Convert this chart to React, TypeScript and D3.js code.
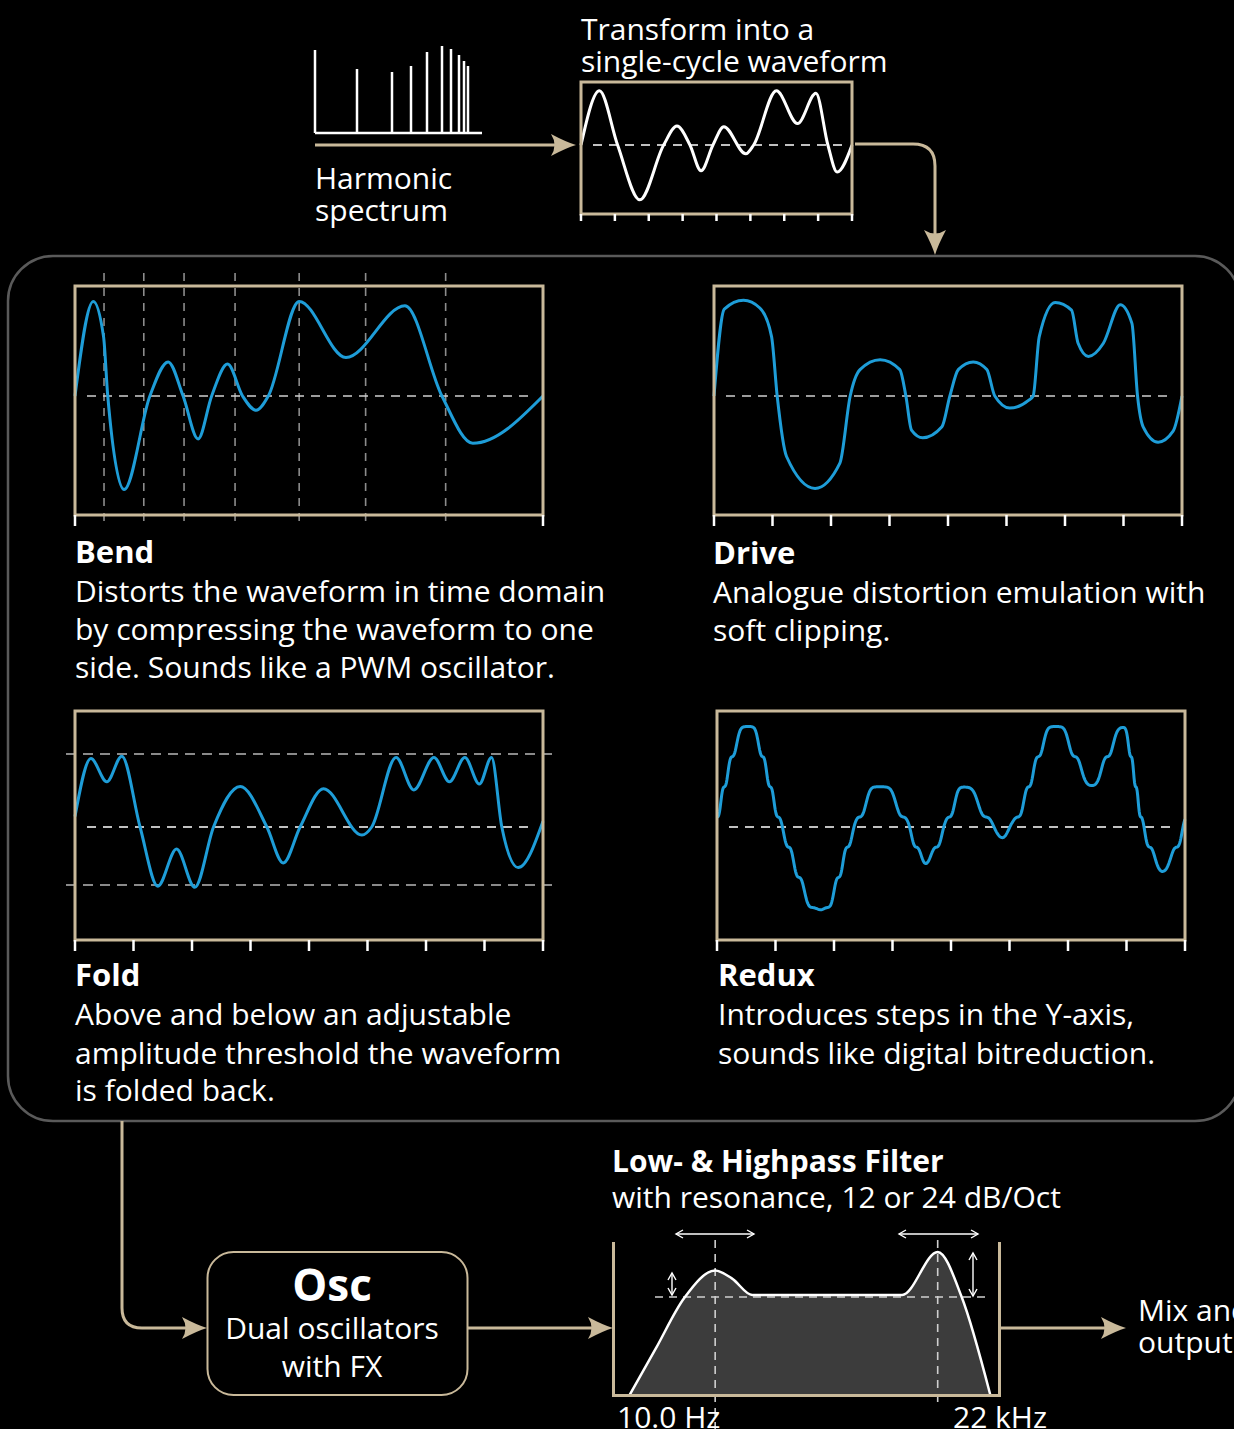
import React from 'react';
import * as d3 from 'd3';

const W = 1234;
const H = 1429;

// ---------- data ----------
const harmonicFreq = [0, 42, 77, 96, 112, 127, 136, 144, 149, 153];
const harmonicAmp = [83, 64, 61, 67, 81, 87, 84, 78, 72, 67];

const sourcePhase = [0, 0.068, 0.135, 0.217, 0.305, 0.354, 0.402, 0.443, 0.487, 0.527, 0.608, 0.637, 0.721, 0.799, 0.867, 0.911, 0.945, 1];
const sourceLevel = [0, 0.86, 0, -0.87, 0, 0.3, 0, -0.41, 0, 0.29, -0.14, 0, 0.86, 0.34, 0.82, 0, -0.43, 0];

const bendPhase = [0, 0.039, 0.061, 0.07, 0.105, 0.16, 0.199, 0.231, 0.263, 0.292, 0.326, 0.358, 0.387, 0.413, 0.479, 0.579, 0.705, 0.784, 0.85, 1];
const bendLevel = [0, 0.86, 0.54, 0, -0.85, 0, 0.31, 0, -0.39, 0, 0.29, 0, -0.13, 0, 0.86, 0.35, 0.82, 0, -0.43, 0];
const bendTicks = [0, 0.062, 0.147, 0.233, 0.342, 0.479, 0.621, 0.792, 1];

const drivePhase = [0, 0.022, 0.063, 0.098, 0.123, 0.135, 0.155, 0.216, 0.269, 0.291, 0.312, 0.355, 0.397, 0.41, 0.422, 0.446, 0.487, 0.504, 0.522, 0.554, 0.583, 0.6, 0.632, 0.672, 0.682, 0.695, 0.729, 0.764, 0.778, 0.8, 0.832, 0.868, 0.893, 0.905, 0.917, 0.949, 0.981, 1];
const driveLevel = [0, 0.79, 0.87, 0.8, 0.54, 0, -0.55, -0.84, -0.61, 0, 0.24, 0.33, 0.24, 0, -0.31, -0.38, -0.28, 0, 0.24, 0.31, 0.24, 0, -0.11, -0.04, 0, 0.54, 0.85, 0.78, 0.48, 0.36, 0.48, 0.83, 0.66, 0, -0.28, -0.42, -0.32, 0];

const foldPhase = [0, 0.034, 0.068, 0.1, 0.139, 0.177, 0.217, 0.256, 0.296, 0.353, 0.41, 0.445, 0.481, 0.531, 0.613, 0.634, 0.686, 0.724, 0.767, 0.8, 0.833, 0.864, 0.89, 0.912, 0.947, 1];
const foldLevel = [0.09, 0.59, 0.39, 0.61, 0, -0.51, -0.19, -0.52, 0, 0.35, 0, -0.31, 0, 0.33, -0.07, 0, 0.6, 0.32, 0.6, 0.39, 0.6, 0.37, 0.6, 0, -0.35, 0.05];
const foldThresholds = [0.63, -0.5];

const reduxPhase = [0, 0.067, 0.138, 0.222, 0.295, 0.348, 0.409, 0.446, 0.487, 0.528, 0.61, 0.63, 0.724, 0.801, 0.868, 0.911, 0.952, 1];
const reduxLevel = [0.07, 0.87, 0, -0.75, 0, 0.36, 0, -0.31, 0, 0.33, -0.07, 0, 0.87, 0.39, 0.83, 0, -0.35, 0.03];
const reduxStep = 0.26;
const reduxOffset = 0.086;

const filterFreq = [0.043, 0.11, 0.184, 0.264, 0.307, 0.36, 0.747, 0.839, 0.901, 0.975];
const filterGain = [0, 0.47, 0.99, 1.27, 1.19, 1.02, 1.02, 1.46, 1.0, 0];
const filterCutoffs = [0.264, 0.839];

// ---------- style ----------
const BLUE = '#1e9dd8';
const BEIGE = '#c9b99a';
const FONT = "'Open Sans', 'Noto Sans', sans-serif";

// monotone cubic interpolation matching d3.curveMonotoneX
function monotone(xs: number[], ys: number[]) {
  const n = xs.length;
  const m = new Array(n).fill(0);
  for (let i = 1; i < n - 1; i++) {
    const h0 = xs[i] - xs[i - 1], h1 = xs[i + 1] - xs[i];
    const s0 = (ys[i] - ys[i - 1]) / h0, s1 = (ys[i + 1] - ys[i]) / h1;
    const p = (s0 * h1 + s1 * h0) / (h0 + h1);
    m[i] = (Math.sign(s0) + Math.sign(s1)) * Math.min(Math.abs(s0), Math.abs(s1), 0.5 * Math.abs(p)) || 0;
  }
  m[0] = (3 * (ys[1] - ys[0]) / (xs[1] - xs[0]) - m[1]) / 2;
  m[n - 1] = (3 * (ys[n - 1] - ys[n - 2]) / (xs[n - 1] - xs[n - 2]) - m[n - 2]) / 2;
  return (x: number) => {
    let i = 0;
    while (i < n - 2 && x > xs[i + 1]) i++;
    const h = xs[i + 1] - xs[i];
    const t = (x - xs[i]) / h;
    const t2 = t * t, t3 = t2 * t;
    return (2 * t3 - 3 * t2 + 1) * ys[i] + (t3 - 2 * t2 + t) * h * m[i] + (-2 * t3 + 3 * t2) * ys[i + 1] + (t3 - t2) * h * m[i + 1];
  };
}

function arrowRight(tx: number, ty: number) {
  return `M${tx},${ty} Q${tx - 10},${ty - 3} ${tx - 25},${ty - 11} Q${tx - 18},${ty} ${tx - 25},${ty + 11} Q${tx - 10},${ty + 3} ${tx},${ty} Z`;
}
function arrowDown(tx: number, ty: number) {
  return `M${tx},${ty} Q${tx - 3},${ty - 10} ${tx - 11},${ty - 25} Q${tx},${ty - 18} ${tx + 11},${ty - 25} Q${tx + 3},${ty - 10} ${tx},${ty} Z`;
}

type BoxProps = {
  left: number; top: number; right: number; bottom: number; mid: number;
  phase: number[]; level: number[]; color?: string; strokeW?: number;
  ticks?: number[]; dashedTicks?: boolean; midColor?: string;
  thresholds?: number[]; redux?: boolean; tickLen?: number;
};

function WaveBox(p: BoxProps) {
  const x = d3.scaleLinear().domain([0, 1]).range([p.left, p.right]);
  const half = p.mid - p.top;
  const y = d3.scaleLinear().domain([-1, 1]).range([p.mid + half, p.mid - half]);
  const data = p.phase.map((t, i) => [t, p.level[i]] as [number, number]);
  let d: string;
  if (p.redux) {
    const f = monotone(p.phase, p.level);
    const samples = d3.range(0, 1.0001, 1 / 900).map((t) => {
      const v = f(Math.min(t, 1));
      const u = (v - reduxOffset) / reduxStep;
      const k = Math.floor(u);
      const fr = u - k;
      const q = reduxOffset + reduxStep * (k + fr - 0.9 * Math.sin(2 * Math.PI * fr) / (2 * Math.PI));
      return [t, q] as [number, number];
    });
    d = d3.line<[number, number]>().x((a) => x(a[0])).y((a) => y(a[1]))(samples) || '';
  } else {
    d = d3.line<[number, number]>().x((a) => x(a[0])).y((a) => y(a[1])).curve(d3.curveMonotoneX)(data) || '';
  }
  const ticks = p.ticks || d3.range(0, 9).map((i) => i / 8);
  const tl = p.tickLen ?? 11;
  return (
    <g>
      {p.dashedTicks && ticks.slice(1, -1).map((t, i) => (
        <line key={'dv' + i} x1={x(t)} x2={x(t)} y1={p.top - 13} y2={p.bottom + 12} stroke="#8c8c8c" strokeWidth={1.6} strokeDasharray="8,7" />
      ))}
      {p.thresholds && p.thresholds.map((v, i) => (
        <line key={'th' + i} x1={p.left - 9} x2={p.right + 12} y1={y(v)} y2={y(v)} stroke="#8a8a8a" strokeWidth={2} strokeDasharray="10,7" />
      ))}
      <line x1={p.left + 12} x2={p.right - 10} y1={p.mid} y2={p.mid} stroke={p.midColor || '#cfcfcf'} strokeWidth={1.6} strokeDasharray="9,7" />
      <path d={d} fill="none" stroke={p.color || BLUE} strokeWidth={p.strokeW || 3} />
      <rect x={p.left} y={p.top} width={p.right - p.left} height={p.bottom - p.top} fill="none" stroke={BEIGE} strokeWidth={3} />
      {(p.dashedTicks ? [0, 1] : ticks).map((t, i) => (
        <line key={'tk' + i} x1={x(t)} x2={x(t)} y1={p.bottom} y2={p.bottom + tl} stroke="#fff" strokeWidth={2.5} />
      ))}
    </g>
  );
}

function Txt({ x, y, children, size = 30, bold = false, anchor = 'start' }: any) {
  return (
    <text x={x} y={y} fill="#fff" fontFamily={FONT} fontSize={size} fontWeight={bold ? 700 : 400} textAnchor={anchor}>
      {children}
    </text>
  );
}

function DoubleArrowH({ x1, x2, y }: any) {
  return (
    <g stroke="#fff" strokeWidth={1.4} fill="none">
      <line x1={x1} x2={x2} y1={y} y2={y} />
      <path d={`M${x1 + 7},${y - 4} L${x1},${y} L${x1 + 7},${y + 4}`} />
      <path d={`M${x2 - 7},${y - 4} L${x2},${y} L${x2 - 7},${y + 4}`} />
    </g>
  );
}
function DoubleArrowV({ x, y1, y2 }: any) {
  return (
    <g stroke="#fff" strokeWidth={1.4} fill="none">
      <line x1={x} x2={x} y1={y1} y2={y2} />
      <path d={`M${x - 4},${y1 + 7} L${x},${y1} L${x + 4},${y1 + 7}`} />
      <path d={`M${x - 4},${y2 - 7} L${x},${y2} L${x + 4},${y2 - 7}`} />
    </g>
  );
}

export default function App() {
  // spectrum
  const sx = d3.scaleLinear().domain([0, 167]).range([315, 482]);
  const sy = d3.scaleLinear().domain([0, 100]).range([133, 33]);

  // filter
  const fx = d3.scaleLinear().domain([0, 1]).range([613, 1000]);
  const fy = d3.scaleLinear().domain([0, 1]).range([1395, 1297]);
  const fData = filterFreq.map((f, i) => [f, filterGain[i]] as [number, number]);
  const fLine = d3.line<[number, number]>().x((a) => fx(a[0])).y((a) => fy(a[1])).curve(d3.curveMonotoneX);
  const fArea = d3.area<[number, number]>().x((a) => fx(a[0])).y0(fy(0)).y1((a) => fy(a[1])).curve(d3.curveMonotoneX);

  return (
    <svg width={W} height={H} style={{ position: 'absolute', left: 0, top: 0, display: 'block' }}>
      <rect x={0} y={0} width={W} height={H} fill="#000" />

      {/* Harmonic spectrum */}
      <line x1={315} x2={482} y1={133} y2={133} stroke="#fff" strokeWidth={2.5} />
      {harmonicFreq.map((f, i) => (
        <line key={i} x1={sx(f)} x2={sx(f)} y1={sy(0)} y2={sy(harmonicAmp[i])} stroke="#fff" strokeWidth={2.5} />
      ))}
      <Txt x={315} y={189}>Harmonic</Txt>
      <Txt x={315} y={221}>spectrum</Txt>
      <path d="M315,145 H556" stroke={BEIGE} strokeWidth={3} fill="none" />
      <path d={arrowRight(576, 145)} fill={BEIGE} />

      <Txt x={581} y={40}>Transform into a</Txt>
      <Txt x={581} y={72}>single-cycle waveform</Txt>
      <WaveBox left={581} top={82} right={852} bottom={214} mid={145} phase={sourcePhase} level={sourceLevel} color="#fff" strokeW={3} midColor="#fff" tickLen={7} />
      <path d="M855,144 H913 Q935,144 935,166 V236" stroke={BEIGE} strokeWidth={3} fill="none" />
      <path d={arrowDown(935, 255)} fill={BEIGE} />

      {/* panel */}
      <rect x={8} y={256} width={1232} height={865} rx={45} ry={45} fill="none" stroke="#5a5a5a" strokeWidth={2.5} />

      {/* Bend */}
      <WaveBox left={75} top={286} right={543} bottom={515} mid={396} phase={bendPhase} level={bendLevel} ticks={bendTicks} dashedTicks />
      <Txt x={75} y={563} bold size={31}>Bend</Txt>
      <Txt x={75} y={602}>Distorts the waveform in time domain</Txt>
      <Txt x={75} y={640}>by compressing the waveform to one</Txt>
      <Txt x={75} y={678}>side. Sounds like a PWM oscillator.</Txt>

      {/* Drive */}
      <WaveBox left={714} top={286} right={1182} bottom={515} mid={396} phase={drivePhase} level={driveLevel} />
      <Txt x={713} y={564} bold size={31}>Drive</Txt>
      <Txt x={713} y={603}>Analogue distortion emulation with</Txt>
      <Txt x={713} y={641}>soft clipping.</Txt>

      {/* Fold */}
      <WaveBox left={75} top={711} right={543} bottom={940} mid={827} phase={foldPhase} level={foldLevel} thresholds={foldThresholds} midColor="#fff" />
      <Txt x={75} y={986} bold size={31}>Fold</Txt>
      <Txt x={75} y={1025}>Above and below an adjustable</Txt>
      <Txt x={75} y={1064}>amplitude threshold the waveform</Txt>
      <Txt x={75} y={1101}>is folded back.</Txt>

      {/* Redux */}
      <WaveBox left={717} top={711} right={1185} bottom={940} mid={827} phase={reduxPhase} level={reduxLevel} redux midColor="#fff" />
      <Txt x={718} y={986} bold size={31}>Redux</Txt>
      <Txt x={718} y={1025}>Introduces steps in the Y-axis,</Txt>
      <Txt x={718} y={1064}>sounds like digital bitreduction.</Txt>

      {/* connectors bottom */}
      <path d="M122,1121 V1308 Q122,1328 142,1328 H188" stroke={BEIGE} strokeWidth={3} fill="none" />
      <path d={arrowRight(207, 1328)} fill={BEIGE} />

      <rect x={207.5} y={1252} width={260} height={143} rx={26} ry={26} fill="#000" stroke={BEIGE} strokeWidth={2} />
      <Txt x={332} y={1301} bold size={44} anchor="middle">Osc</Txt>
      <Txt x={332} y={1339} anchor="middle">Dual oscillators</Txt>
      <Txt x={332} y={1377} anchor="middle">with FX</Txt>

      <path d="M468,1328 H594" stroke={BEIGE} strokeWidth={3} fill="none" />
      <path d={arrowRight(613, 1328)} fill={BEIGE} />

      {/* Filter */}
      <Txt x={612} y={1172} bold size={30}>Low- &amp; Highpass Filter</Txt>
      <Txt x={612} y={1208}>with resonance, 12 or 24 dB/Oct</Txt>
      <path d={fArea(fData) || ''} fill="#3c3c3c" />
      <line x1={655} x2={989} y1={1297} y2={1297} stroke="#cfcfcf" strokeWidth={1.6} strokeDasharray="8,6" />
      <line x1={fx(filterCutoffs[0])} x2={fx(filterCutoffs[0])} y1={1240} y2={1429} stroke="#cfcfcf" strokeWidth={1.6} strokeDasharray="8,6" />
      <line x1={fx(filterCutoffs[1])} x2={fx(filterCutoffs[1])} y1={1240} y2={1406} stroke="#cfcfcf" strokeWidth={1.6} strokeDasharray="8,6" />
      <path d={fLine(fData) || ''} fill="none" stroke="#fff" strokeWidth={2.5} />
      <path d="M613.5,1242 V1395.5 H999.5 V1242" fill="none" stroke={BEIGE} strokeWidth={3} />
      <DoubleArrowH x1={676} x2={754} y={1234} />
      <DoubleArrowH x1={899} x2={978} y={1234} />
      <DoubleArrowV x={672} y1={1273} y2={1295} />
      <DoubleArrowV x={973} y1={1253} y2={1296} />
      <Txt x={617} y={1428}>10.0 Hz</Txt>
      <Txt x={953} y={1428}>22 kHz</Txt>

      <path d="M1000,1328 H1107" stroke={BEIGE} strokeWidth={3} fill="none" />
      <path d={arrowRight(1126, 1328)} fill={BEIGE} />
      <Txt x={1138} y={1321}>Mix and</Txt>
      <Txt x={1138} y={1353}>output</Txt>
    </svg>
  );
}
